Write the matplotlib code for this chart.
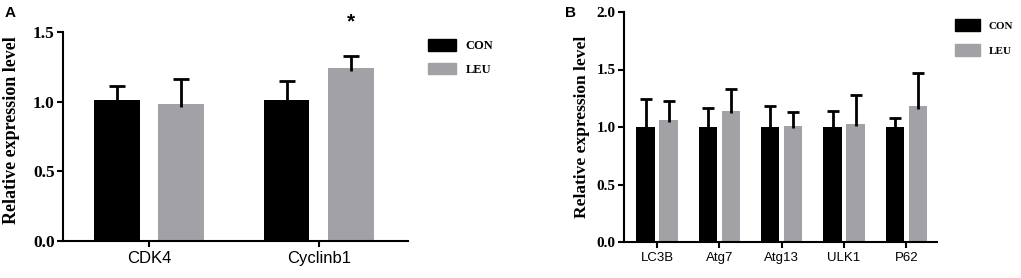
import numpy as np
import matplotlib
matplotlib.use("Agg")
import matplotlib.pyplot as plt
from matplotlib.patches import Patch

# Panel A data
genes_a = ["CDK4", "Cyclinb1"]
con_a = [1.01, 1.01]
con_a_err = [0.10, 0.14]
leu_a = [0.98, 1.24]
leu_a_err = [0.18, 0.09]
yticks_a = [0.0, 0.5, 1.0, 1.5]

# Panel B data
genes_b = ["LC3B", "Atg7", "Atg13", "ULK1", "P62"]
con_b = [1.00, 1.00, 1.00, 1.00, 1.00]
con_b_err = [0.24, 0.165, 0.18, 0.14, 0.08]
leu_b = [1.06, 1.14, 1.01, 1.03, 1.18]
leu_b_err = [0.17, 0.19, 0.12, 0.245, 0.29]
yticks_b = [0.0, 0.5, 1.0, 1.5, 2.0]

BLACK = "#000000"
GRAY = "#a2a2a6"
serif = "Liberation Serif"
sans = "Liberation Sans"

W, H = 1021, 278
fig = plt.figure(figsize=(W / 100, H / 100), dpi=100)


def px_axes(left, top, right, bottom):
    return fig.add_axes([left / W, 1 - bottom / H, (right - left) / W, (bottom - top) / H])


def draw_panel(ax, genes, con, con_err, leu, leu_err, yticks, width, offset,
               xlim, tick_fs, label_fs, xlab_fs, capw):
    x = np.arange(len(genes))
    for xs, vals, errs, col in [(x - offset, con, con_err, BLACK),
                                (x + offset, leu, leu_err, GRAY)]:
        vals = np.array(vals)
        errs = np.array(errs)
        ax.bar(xs, vals, width=width, color=col, linewidth=0, zorder=2)
        ax.vlines(xs, vals - 0.02, vals + errs, color=BLACK, linewidth=2, zorder=3)
        ax.plot(xs, vals + errs, linestyle="none", marker="_", markersize=capw,
                markeredgewidth=2, color=BLACK, zorder=3)
    ax.set_xlim(*xlim)
    ax.set_ylim(yticks[0], yticks[-1])
    ax.set_yticks(yticks)
    ax.set_yticklabels([f"{t:.1f}" for t in yticks], fontfamily=serif,
                       fontweight="bold", fontsize=tick_fs)
    ax.set_xticks(x)
    ax.set_xticklabels(genes, fontfamily=sans, fontsize=xlab_fs)
    ax.set_ylabel("Relative expression level", fontfamily=serif,
                  fontweight="bold", fontsize=label_fs)
    for s in ["top", "right"]:
        ax.spines[s].set_visible(False)
    for s in ["left", "bottom"]:
        ax.spines[s].set_linewidth(1.5)
    ax.tick_params(axis="both", direction="out", length=4, width=1.5)
    ax.tick_params(axis="y", pad=2)


def add_legend(ax, left, top, fs, hl, hh, ls):
    ax.legend(handles=[Patch(color=BLACK, label="CON"), Patch(color=GRAY, label="LEU")],
              loc="upper left", bbox_to_anchor=(left / W, 1 - top / H),
              bbox_transform=fig.transFigure, frameon=False, borderpad=0,
              borderaxespad=0, prop={"family": serif, "weight": "bold", "size": fs},
              handlelength=hl, handleheight=hh, labelspacing=ls, handletextpad=0.8)


ax_a = px_axes(63, 32, 408, 241)
draw_panel(ax_a, genes_a, con_a, con_a_err, leu_a, leu_a_err, yticks_a,
           width=0.27, offset=0.19, xlim=(-0.506, 1.525),
           tick_fs=12.5, label_fs=13, xlab_fs=12, capw=11)
ax_a.yaxis.set_label_coords(-0.125, 0.53)
ax_a.text(1 + 0.19, leu_a[1] + leu_a_err[1] + 0.24, "*", ha="center", va="center",
          fontsize=15, fontweight="bold", fontfamily=sans, clip_on=False)
add_legend(ax_a, 428, 39, 9, 2.2, 1.05, 0.85)

ax_b = px_axes(624, 12, 937, 242)
draw_panel(ax_b, genes_b, con_b, con_b_err, leu_b, leu_b_err, yticks_b,
           width=0.293, offset=0.184, xlim=(-0.53, 4.49),
           tick_fs=11, label_fs=12.5, xlab_fs=9.5, capw=8)
ax_b.yaxis.set_label_coords(-0.108, 0.5)
add_legend(ax_b, 955, 19, 8, 2.25, 1.35, 1.1)

fig.text(5 / W, 1 - 13 / H, "A", fontfamily=sans, fontweight="bold", fontsize=11,
         va="center", ha="left")
fig.text(565 / W, 1 - 13 / H, "B", fontfamily=sans, fontweight="bold", fontsize=11,
         va="center", ha="left")

fig.savefig("out.png", dpi=100)
